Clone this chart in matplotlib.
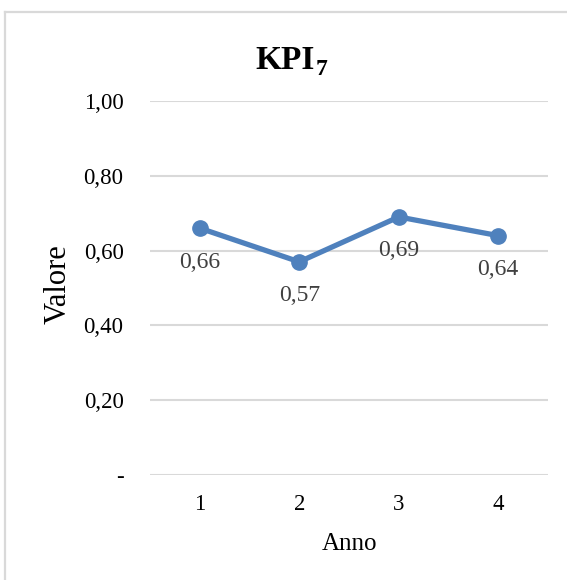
import matplotlib
matplotlib.use("Agg")
import matplotlib.pyplot as plt
from matplotlib.lines import Line2D

# Data
anni = [1, 2, 3, 4]
valori = [0.66, 0.57, 0.69, 0.64]
y_ticks = [0.0, 0.2, 0.4, 0.6, 0.8, 1.0]
y_tick_labels = ["-", "0,20", "0,40", "0,60", "0,80", "1,00"]

plt.rcParams["font.family"] = ["Liberation Serif", "DejaVu Serif"]

W, H = 567, 580
fig = plt.figure(figsize=(W / 100, H / 100), dpi=100)
fig.patch.set_facecolor("white")

# chart-area frame (top and left edges)
fig.add_artist(Line2D([5 / W, 1.0], [1 - 12 / H, 1 - 12 / H], color="#d9d9d9", lw=1.6,
                      transform=fig.transFigure))
fig.add_artist(Line2D([5 / W, 5 / W], [0.0, 1 - 12 / H], color="#d9d9d9", lw=1.6,
                      transform=fig.transFigure))

left, right = 150 / W, 548 / W
bottom, top = 1 - 475 / H, 1 - 101 / H
ax = fig.add_axes([left, bottom, right - left, top - bottom])

ax.set_xlim(0.5, 4.5)
ax.set_ylim(0, 1.0)
for s in ax.spines.values():
    s.set_visible(False)

ax.set_yticks(y_ticks)
ax.set_yticklabels(y_tick_labels)
ax.set_xticks(anni)
ax.set_xticklabels([str(a) for a in anni])
ax.tick_params(axis="both", length=0, labelsize=16.5, colors="black")
ax.tick_params(axis="y", pad=19)
ax.tick_params(axis="x", pad=14)
ax.yaxis.grid(True, color="#d9d9d9", lw=1.5)
ax.set_axisbelow(True)

ax.plot(anni, valori, color="#4f81bd", lw=3.8, marker="o", markersize=11,
        solid_capstyle="round", zorder=3)

for x, v in zip(anni, valori):
    ax.annotate(f"{v:.2f}".replace(".", ","), (x, v), xytext=(0, -34),
                textcoords="offset pixels", ha="center", va="center",
                fontsize=17, color="#404040")

# chart title "KPI" with a subscript 7, centred on the chart area
title_baseline = H - 69
kpi = fig.text(285 / W, title_baseline / H, "KPI", fontsize=24, fontweight="bold",
               ha="center", va="baseline")
fig.canvas.draw()
bb = kpi.get_window_extent()
fig.text((bb.x1 + 1) / W, (title_baseline - 6) / H, "7", fontsize=17,
         fontweight="bold", ha="left", va="baseline")

ax.set_xlabel("Anno", fontsize=18, labelpad=13)
ax.set_ylabel("Valore", fontsize=22)
ax.yaxis.set_label_coords(58 / W, 1 - 284 / H, transform=fig.transFigure)
ax.yaxis.label.set_va("center")

fig.savefig("out.png", dpi=100)
